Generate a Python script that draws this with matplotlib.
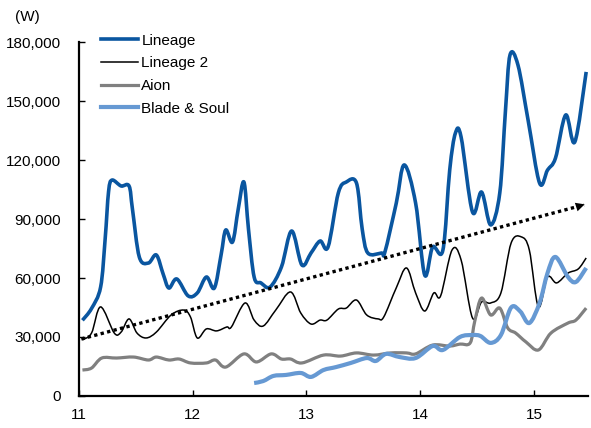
import numpy as np
import matplotlib
matplotlib.use("Agg")
import matplotlib.pyplot as plt
from matplotlib.path import Path
from matplotlib.patches import PathPatch
from matplotlib.lines import Line2D

plt.rcParams['font.family'] = ['Liberation Sans', 'DejaVu Sans']

# time in decimal years (11 = 2011), values in won
lineage_t = [11.03, 11.11, 11.19, 11.23, 11.26, 11.29, 11.37, 11.44, 11.47, 11.53,
             11.61, 11.68, 11.74, 11.79, 11.86, 11.96, 12.04, 12.12, 12.19, 12.25,
             12.29, 12.35, 12.40, 12.45, 12.49, 12.54, 12.60, 12.68, 12.78, 12.87,
             12.96, 13.04, 13.12, 13.19, 13.28, 13.35, 13.44, 13.49, 13.54, 13.66,
             13.69, 13.79, 13.86, 13.96, 14.04, 14.11, 14.20, 14.26, 14.31, 14.36,
             14.46, 14.54, 14.62, 14.70, 14.75, 14.79, 14.86, 14.95, 15.05, 15.12,
             15.19, 15.28, 15.36, 15.46]
lineage = [38500, 44500, 55400, 80000, 104000, 109800, 106800, 106800, 95000, 70700,
           67600, 71700, 62000, 54900, 59500, 50900, 52400, 60500, 54900, 72000,
           84400, 78300, 95000, 108800, 85000, 60500, 57500, 55400, 65600, 83900,
           66600, 72700, 78800, 75800, 103200, 108800, 108300, 85000, 72700, 72700,
           73200, 98100, 117500, 98100, 61500, 75800, 74200, 115000, 133700, 131700,
           93600, 103700, 87000, 103200, 145000, 173400, 168300, 140000, 108300, 114900,
           121000, 142900, 129200, 164800]

lineage2_t = [11.03, 11.11, 11.19, 11.31, 11.37, 11.44, 11.51, 11.59, 11.68, 11.81,
              11.92, 11.98, 12.04, 12.12, 12.21, 12.30, 12.34, 12.46, 12.54, 12.62,
              12.73, 12.86, 12.95, 13.04, 13.12, 13.18, 13.28, 13.35, 13.44, 13.53,
              13.63, 13.68, 13.79, 13.88, 13.96, 14.04, 14.12, 14.18, 14.28, 14.36,
              14.46, 14.54, 14.62, 14.71, 14.80, 14.89, 14.96, 15.04, 15.12, 15.20,
              15.30, 15.39, 15.46]
lineage2 = [28500, 32000, 45300, 32000, 32500, 39200, 32000, 29500, 32500, 41200,
            43700, 40200, 29500, 34100, 33100, 35100, 35100, 47300, 38600, 35600,
            43700, 52900, 42200, 36600, 38600, 38600, 44200, 44700, 48800, 41200,
            39200, 40200, 55000, 65100, 52400, 43200, 52400, 50900, 74200, 69200,
            39700, 47800, 47300, 52400, 77800, 80900, 74200, 45300, 60500, 57500,
            62500, 64600, 70200]

aion_t = [11.03, 11.11, 11.20, 11.33, 11.48, 11.61, 11.68, 11.79, 11.88, 11.98,
          12.12, 12.20, 12.29, 12.45, 12.56, 12.69, 12.78, 12.86, 12.96, 13.15,
          13.30, 13.44, 13.59, 13.74, 13.88, 13.96, 14.11, 14.26, 14.35, 14.44,
          14.48, 14.54, 14.62, 14.70, 14.77, 14.84, 14.93, 15.04, 15.15, 15.30,
          15.37, 15.46]
aion = [13200, 14200, 19300, 19300, 19800, 18300, 19800, 18300, 18800, 16800,
        16800, 18300, 14700, 21400, 17300, 21400, 18800, 18800, 16800, 20800,
        20300, 21900, 20800, 21900, 21900, 21400, 25900, 25400, 26400, 27000,
        38000, 49800, 41200, 44700, 34600, 32000, 27500, 23400, 32000, 37100,
        38600, 44700]

bns_t = [12.54, 12.62, 12.71, 12.82, 12.95, 13.04, 13.15, 13.26, 13.39, 13.53,
         13.61, 13.70, 13.82, 13.96, 14.11, 14.20, 14.35, 14.46, 14.53, 14.62,
         14.71, 14.80, 14.88, 14.96, 15.05, 15.12, 15.19, 15.30, 15.37, 15.46]
bns = [6600, 7600, 10200, 10700, 11700, 9700, 13200, 14700, 16800, 19300,
       17800, 21400, 19800, 19300, 25400, 23400, 30000, 31000, 30500, 27000,
       31000, 45000, 43000, 37100, 47300, 62500, 70700, 60500, 58000, 65100]

trend_t = [11.02, 15.44]
trend = [29000, 97200]

xticks = [11, 12, 13, 14, 15]
yticks = [0, 30000, 60000, 90000, 120000, 150000, 180000]


def smooth_path(xs, ys):
    # spreadsheet-style smoothed line: cubic Bezier pieces through every point
    p = np.column_stack([xs, ys]).astype(float)
    n = len(p)
    verts = [p[0]]
    codes = [Path.MOVETO]
    for i in range(n - 1):
        p0 = p[i - 1] if i > 0 else p[i]
        p3 = p[i + 2] if i + 2 < n else p[i + 1]
        c1 = p[i] + (p[i + 1] - p0) / 6.0
        c2 = p[i + 1] - (p3 - p[i]) / 6.0
        verts += [c1, c2, p[i + 1]]
        codes += [Path.CURVE4] * 3
    return Path(verts, codes)


fig = plt.figure(figsize=(5.91, 4.28), dpi=100)
ax = fig.add_axes([0.1337, 0.0748, 0.862, 0.827])

series = [
    (lineage_t, lineage, '#0A56A0', 2.6, 'Lineage'),
    (lineage2_t, lineage2, 'black', 1.1, 'Lineage 2'),
    (aion_t, aion, '#808080', 2.3, 'Aion'),
    (bns_t, bns, '#6699D3', 3.0, 'Blade & Soul'),
]
handles = []
for t, v, c, lw, name in series:
    ax.add_patch(PathPatch(smooth_path(t, v), fill=False, edgecolor=c, lw=lw,
                           joinstyle='round', capstyle='butt'))
    handles.append(Line2D([], [], color=c, lw=lw, label=name))

ax.plot(trend_t, trend, color='black', lw=2.4, linestyle=(0, (1, 1)), dash_capstyle='butt')
ax.annotate('', xy=(15.47, 97900), xytext=(15.40, 96600),
            arrowprops=dict(arrowstyle='-|>', color='black', lw=0, mutation_scale=16))

ax.set_xlim(11, 15.48)
ax.set_ylim(0, 180000)
ax.set_xticks(xticks)
ax.set_xticklabels([str(x) for x in xticks])
ax.set_yticks(yticks)
ax.set_yticklabels(['{:,}'.format(v) for v in yticks])
ax.tick_params(direction='in', length=4, width=1, labelsize=11, colors='black')
ax.tick_params(axis='x', pad=9)
ax.tick_params(axis='y', pad=13)

for s in ['top', 'right']:
    ax.spines[s].set_visible(False)
for s in ['left', 'bottom']:
    ax.spines[s].set_linewidth(1.6)

fig.text(0.047, 0.96, '(W)', fontsize=11, ha='center', va='center')

ax.legend(handles=handles, loc='upper left', bbox_to_anchor=(0.043, 1.024), frameon=False,
          fontsize=11, handlelength=2.4, handletextpad=0.25, labelspacing=0.57,
          borderpad=0, borderaxespad=0)

fig.savefig('out.png', dpi=100)
